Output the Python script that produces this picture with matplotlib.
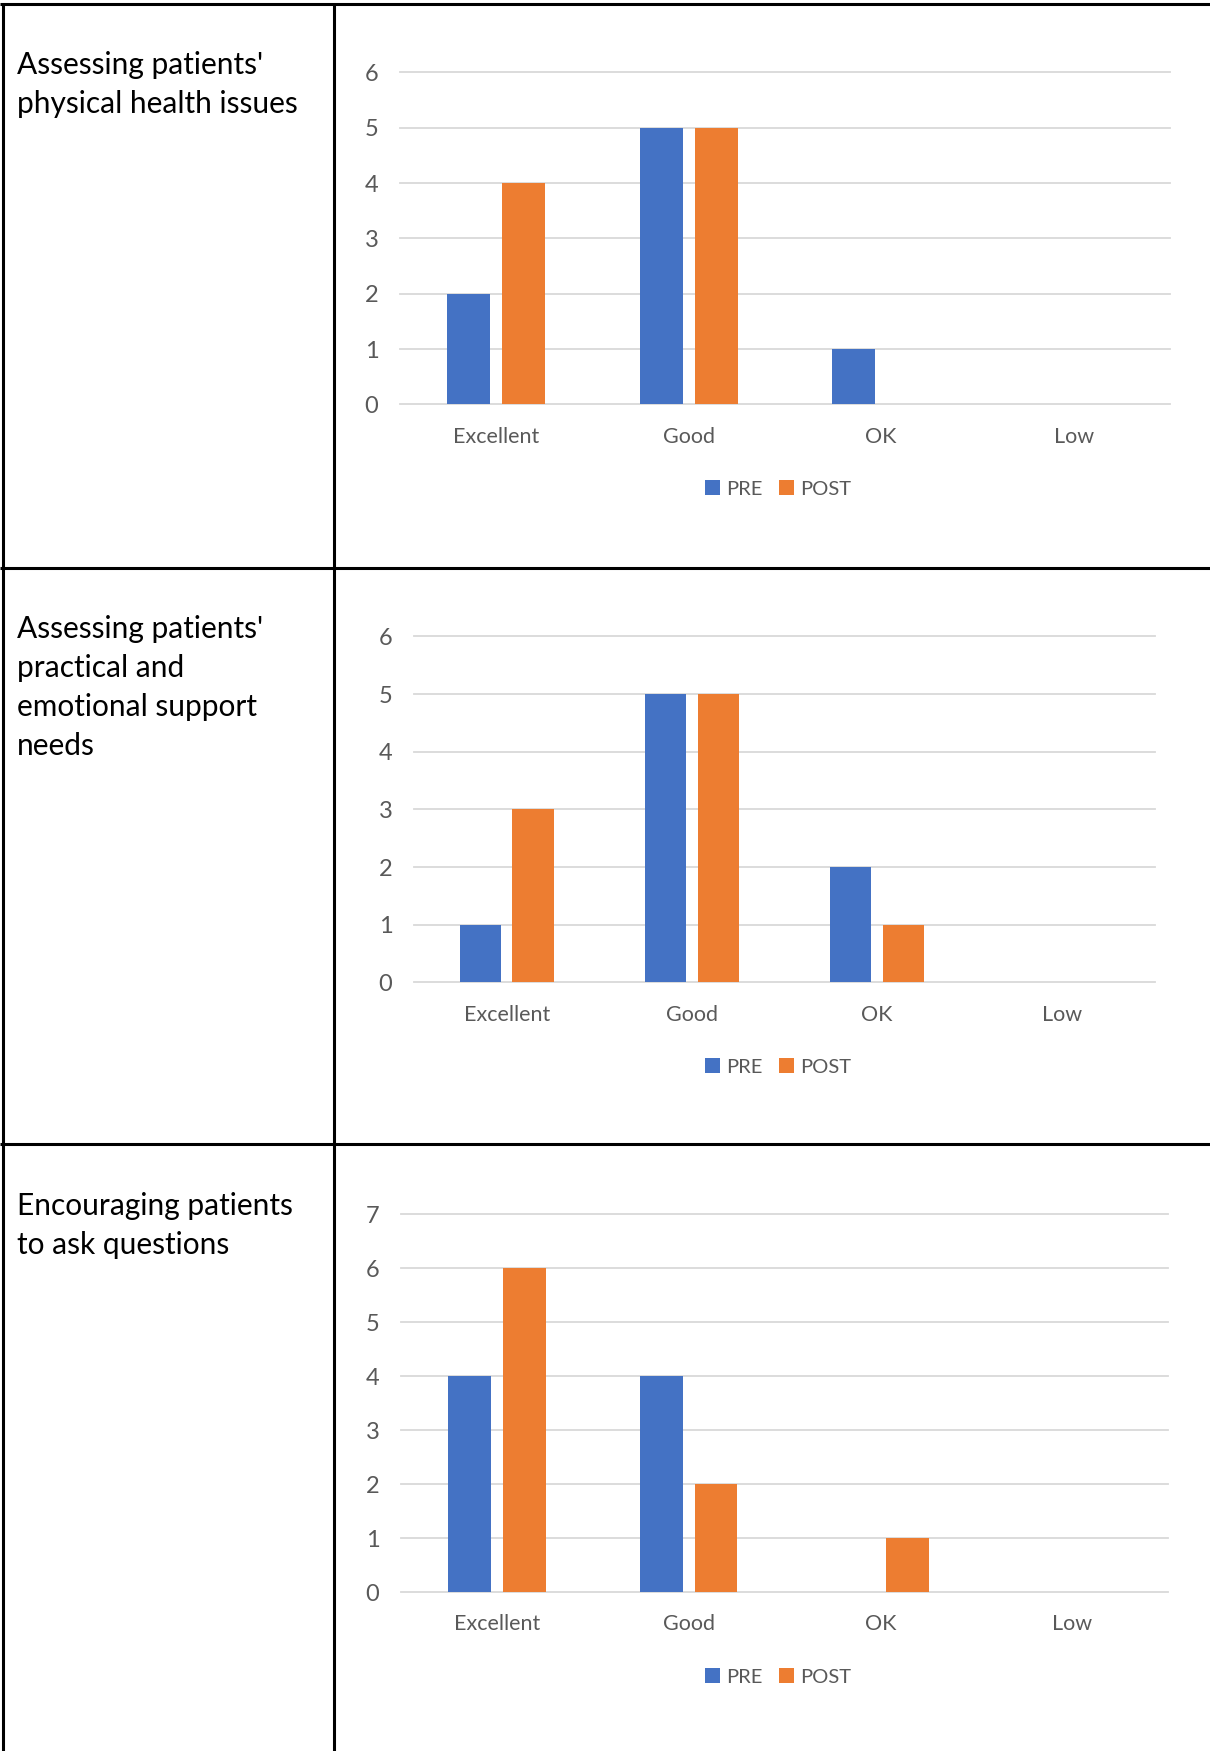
import matplotlib
matplotlib.use('Agg')
import matplotlib.pyplot as plt
import numpy as np
from matplotlib.lines import Line2D

plt.rcParams['font.family'] = ['Lato', 'DejaVu Sans']

# survey answers, counts per rating
categories = ['Excellent', 'Good', 'OK', 'Low']
series_names = ['PRE', 'POST']

physical_pre = [2, 5, 1, 0]
physical_post = [4, 5, 0, 0]

support_pre = [1, 5, 2, 0]
support_post = [3, 5, 1, 0]

questions_pre = [4, 4, 0, 0]
questions_post = [6, 2, 1, 0]

row_titles = [
    ["Assessing patients'", "physical health issues"],
    ["Assessing patients'", "practical and", "emotional support", "needs"],
    ["Encouraging patients", "to ask questions"],
]

PRE_COLOR = '#4472C4'
POST_COLOR = '#ED7D31'
GRID_COLOR = '#D9D9D9'
TEXT_GREY = '#595959'

W, H = 1210, 1751
fig = plt.figure(figsize=(W / 100, H / 100), dpi=100)
fig.patch.set_facecolor('white')


def fx(x):
    return x / W


def fy(y):
    return 1 - y / H


# table borders
border_kw = dict(color='black', lw=2.2, solid_capstyle='butt')
for y in [4, 568, 1144]:
    fig.add_artist(Line2D([fx(0), fx(W)], [fy(y), fy(y)], **border_kw))
for x in [3, 334]:
    fig.add_artist(Line2D([fx(x), fx(x)], [fy(3), fy(H)], **border_kw))

# left column text
first_baselines = [74, 638, 1215]
for lines, y0 in zip(row_titles, first_baselines):
    for i, line in enumerate(lines):
        fig.text(fx(17), fy(y0 + 39 * i), line, fontsize=21.5,
                 color='black', va='baseline', ha='left')

# chart panels: (pre, post, x0, x1, y_top, y_zero, ymax, legend_y)
panels = [
    (physical_pre, physical_post, 400, 1170, 72.5, 404.5, 6, 489),
    (support_pre, support_post, 414, 1155, 636.5, 982.5, 6, 1067),
    (questions_pre, questions_post, 401, 1168, 1214, 1592, 7, 1677),
]

x = np.arange(len(categories))
bar_w = 0.223
offset = 0.1425

for pre, post, x0, x1, y_top, y_zero, ymax, leg_y in panels:
    ax = fig.add_axes([fx(x0), fy(y_zero), (x1 - x0) / W, (y_zero - y_top) / H])
    b1 = ax.bar(x - offset, pre, bar_w, color=PRE_COLOR, zorder=3)
    b2 = ax.bar(x + offset, post, bar_w, color=POST_COLOR, zorder=3)
    ax.set_xlim(-0.5, 3.5)
    ax.set_ylim(0, ymax)
    ax.set_yticks(range(ymax + 1))
    ax.set_xticks(x)
    ax.set_xticklabels(categories)
    for s in ax.spines.values():
        s.set_visible(False)
    ax.yaxis.grid(True, color=GRID_COLOR, lw=1.3)
    for gl in ax.get_ygridlines():
        gl.set_clip_on(False)
    ax.set_axisbelow(True)
    ax.tick_params(axis='y', length=0, pad=15.5, labelsize=17, labelcolor=TEXT_GREY)
    ax.tick_params(axis='x', length=0, pad=16, labelsize=15.5, labelcolor=TEXT_GREY)
    ax.patch.set_alpha(0)
    ax.legend([b1, b2], series_names, loc='center',
              bbox_to_anchor=(fx(778), fy(leg_y)), bbox_transform=fig.transFigure,
              ncol=2, frameon=False, fontsize=14.5, labelcolor=TEXT_GREY,
              handlelength=0.72, handleheight=0.72, handletextpad=0.3,
              columnspacing=0.85, borderpad=0, borderaxespad=0)

fig.savefig('out.png', dpi=100, facecolor='white')
